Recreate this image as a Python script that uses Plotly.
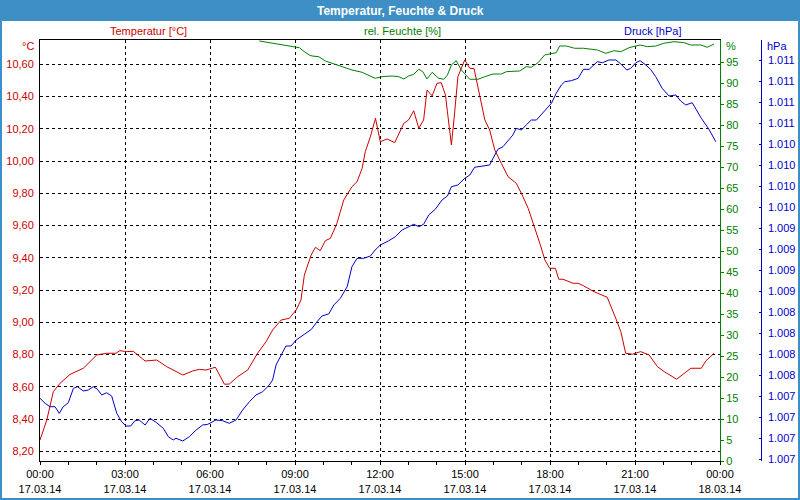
import pandas as pd
import plotly.graph_objects as go

# ---------------- data ----------------
temp_hours = [0.00, 0.24, 0.47, 0.71, 1.06, 1.53, 2.00, 2.35, 2.68, 2.82, 3.06, 3.29, 3.71, 4.12, 4.47, 4.76,
              5.04, 5.39, 5.62, 5.86, 6.19, 6.51, 6.68, 6.98, 7.33, 7.68, 7.98, 8.21, 8.51, 8.80, 9.04, 9.21, 9.33, 9.57,
              9.72, 9.89, 10.07, 10.25, 10.48, 10.72, 11.01, 11.19, 11.37, 11.48, 11.66, 11.84, 12.01, 12.25, 12.52,
              12.84, 13.01, 13.19, 13.37, 13.54, 13.66, 13.84, 14.01, 14.16, 14.31, 14.38,
              14.52, 14.61, 14.75, 14.99, 15.17, 15.32, 15.52, 15.70, 15.87, 16.05, 16.28, 16.52, 16.81, 16.99, 17.23,
              17.46, 17.64, 17.82, 17.99, 18.19, 18.31, 18.46, 18.81, 18.99, 19.18,
              19.55, 20.02, 20.32, 20.50, 20.67, 20.91, 21.20, 21.50, 21.79, 22.03, 22.47, 22.73, 22.97, 23.34, 23.50, 23.79]
temp_values = [8.270, 8.394, 8.570, 8.622, 8.677, 8.715, 8.797, 8.808, 8.808, 8.824, 8.818, 8.820, 8.760, 8.766, 8.725, 8.698,
               8.673, 8.698, 8.708, 8.704, 8.721, 8.616, 8.617, 8.663, 8.704, 8.808, 8.880, 8.952, 9.014, 9.025, 9.076, 9.138, 9.293, 9.417,
               9.465, 9.444, 9.506, 9.521, 9.614, 9.758, 9.841, 9.872, 9.955, 10.058, 10.151, 10.265, 10.120, 10.137, 10.114,
               10.234, 10.255, 10.312, 10.203, 10.255, 10.440, 10.404, 10.482, 10.486, 10.410, 10.306,
               10.100, 10.255, 10.523, 10.627, 10.575, 10.573, 10.410, 10.255, 10.193, 10.069, 9.986, 9.903, 9.862, 9.800, 9.707,
               9.593, 9.490, 9.386, 9.335, 9.335, 9.267, 9.267, 9.242, 9.242, 9.227,
               9.190, 9.155, 9.025, 8.942, 8.808, 8.802, 8.818, 8.797, 8.725, 8.694, 8.647, 8.684, 8.715, 8.715, 8.760, 8.808]

hum_hours = [7.74, 8.21, 8.57, 8.92, 9.15, 9.33, 9.50, 9.60, 9.84, 10.07,
             10.31, 10.66, 11.01, 11.37, 11.60, 11.83, 12.07, 12.42, 12.66, 12.84,
             13.01, 13.19, 13.37, 13.51, 13.66, 13.84, 14.07, 14.25, 14.38, 14.52,
             14.69, 14.87, 15.17, 15.46, 15.70, 15.99, 16.28, 16.46, 16.93, 17.16,
             17.34, 17.58, 17.81, 18.05, 18.22, 18.34, 18.58, 18.87, 19.18, 19.67,
             19.97, 20.26, 20.50, 20.79, 21.18, 21.44, 21.73, 22.02, 22.38, 22.73,
             22.97, 23.32, 23.55, 23.79]
hum_values = [100.1, 99.55, 99.14, 98.74, 98.5, 97.55, 96.76, 96.52, 96.35, 95.33,
              94.78, 93.97, 93.18, 92.63, 91.99, 91.2, 91.59, 91.75, 91.59, 91.04,
              91.75, 92.16, 93.35, 92.78, 91.04, 92.63, 91.2, 90.97, 91.99, 94.38,
              95.4, 93.18, 90.97, 90.97, 91.59, 92.23, 92.23, 92.78, 92.95, 93.97,
              93.83, 94.92, 96.76, 97.16, 97.31, 98.9, 98.9, 98.36, 98.36, 97.95,
              97.16, 97.78, 97.55, 98.5, 99.14, 98.74, 98.9, 99.55, 99.93, 99.69,
              99.14, 99.14, 98.6, 99.38]

press_hours = [0.00, 0.18, 0.35, 0.53, 0.68, 0.82, 1.00, 1.18, 1.32, 1.53, 1.70, 1.88, 2.02, 2.18, 2.35, 2.53, 2.71, 2.88,
               3.04, 3.20, 3.35, 3.50, 3.71, 3.88, 4.12, 4.35, 4.53, 4.70,
               4.80, 5.04, 5.27, 5.51, 5.74, 5.92, 6.21, 6.45, 6.68, 6.92, 7.15, 7.39, 7.62, 7.86, 8.09, 8.21, 8.33, 8.51,
               8.68, 8.86, 9.04, 9.33, 9.58,
               9.78, 9.95, 10.19, 10.37, 10.60, 10.84, 11.01, 11.19, 11.42, 11.66, 11.83, 12.01, 12.31, 12.54, 12.78, 13.01,
               13.19, 13.37, 13.54, 13.72, 13.95, 14.19, 14.38,
               14.52, 14.75, 14.99, 15.17, 15.34, 15.64, 15.87, 15.99, 16.16, 16.34, 16.52, 16.69, 16.81, 16.99, 17.16,
               17.34, 17.52, 17.69, 17.93, 18.05, 18.22, 18.40, 18.52, 18.75, 18.99, 19.18,
               19.38, 19.67, 19.85, 20.08, 20.32, 20.50, 20.71, 20.85, 21.03, 21.18, 21.38, 21.55, 21.73, 21.96, 22.20,
               22.44, 22.61, 22.79, 23.02, 23.20, 23.34, 23.61, 23.85]
press_values = [1007.226, 1007.166, 1007.126, 1007.126, 1007.047, 1007.126, 1007.173, 1007.345, 1007.364, 1007.313,
                1007.324, 1007.364, 1007.336, 1007.265, 1007.292, 1007.253, 1007.047, 1006.947, 1006.896, 1006.896,
                1006.959, 1006.968, 1006.908, 1006.988, 1006.935, 1006.869, 1006.769, 1006.730,
                1006.750, 1006.718, 1006.769, 1006.849, 1006.908, 1006.916, 1006.968, 1006.959, 1006.928, 1006.968,
                1007.086, 1007.185, 1007.265, 1007.304, 1007.384, 1007.443, 1007.622, 1007.741, 1007.848, 1007.848,
                1007.919, 1007.987, 1008.047,
                1008.137, 1008.205, 1008.229, 1008.336, 1008.415, 1008.553, 1008.791, 1008.891, 1008.891, 1008.918,
                1008.990, 1009.049, 1009.100, 1009.148, 1009.228, 1009.267, 1009.296, 1009.267, 1009.296, 1009.406,
                1009.474, 1009.585, 1009.632,
                1009.743, 1009.763, 1009.843, 1009.882, 1009.974, 1009.989, 1010.001, 1010.081, 1010.188, 1010.219,
                1010.290, 1010.358, 1010.438, 1010.417, 1010.477, 1010.536, 1010.536, 1010.596, 1010.687, 1010.735,
                1010.854, 1010.953, 1010.992, 1011.004, 1011.032, 1011.139,
                1011.139, 1011.230, 1011.218, 1011.250, 1011.250, 1011.203, 1011.131, 1011.151, 1011.218, 1011.242,
                1011.191, 1011.139, 1011.052, 1010.913, 1010.822, 1010.834, 1010.763, 1010.715, 1010.742, 1010.635,
                1010.557, 1010.426, 1010.278]

x_tick_hours = [0, 3, 6, 9, 12, 15, 18, 21, 24]
x_tick_labels = ["00:00<br>17.03.14", "03:00<br>17.03.14", "06:00<br>17.03.14", "09:00<br>17.03.14",
                 "12:00<br>17.03.14", "15:00<br>17.03.14", "18:00<br>17.03.14", "21:00<br>17.03.14",
                 "00:00<br>18.03.14"]
temp_ticks = [8.2, 8.4, 8.6, 8.8, 9.0, 9.2, 9.4, 9.6, 9.8, 10.0, 10.2, 10.4, 10.6]
temp_tick_labels = ["8,20", "8,40", "8,60", "8,80", "9,00", "9,20", "9,40", "9,60", "9,80",
                    "10,00", "10,20", "10,40", "10,60"]
hum_ticks = [0, 5, 10, 15, 20, 25, 30, 35, 40, 45, 50, 55, 60, 65, 70, 75, 80, 85, 90, 95]
press_ticks = [1006.5, 1006.75, 1007.0, 1007.25, 1007.5, 1007.75, 1008.0, 1008.25, 1008.5, 1008.75,
               1009.0, 1009.25, 1009.5, 1009.75, 1010.0, 1010.25, 1010.5, 1010.75, 1011.0, 1011.25]
press_tick_labels = ["1.007"] * 4 + ["1.008"] * 4 + ["1.009"] * 4 + ["1.010"] * 4 + ["1.011"] * 4

assert len(temp_hours) == len(temp_values)
assert len(hum_hours) == len(hum_values)
assert len(press_hours) == len(press_values)

# ---------------- figure ----------------
RED, GREEN, BLUE = "#cc0000", "#008000", "#0000cc"
FRAME = "#3d8fc6"
FONT = "Liberation Sans"
base = pd.Timestamp("2014-03-17 00:00")


def to_time(hours):
    return [base + pd.Timedelta(hours=h) for h in hours]


W, H = 800, 500
ML, MR, MT, MB = 40, 35, 40, 39
PW, PH = W - ML - MR, H - MT - MB


def px(xp):
    return (xp - ML) / PW


def py(yp):
    return (H - MB - yp) / PH


fig = go.Figure()
fig.add_trace(go.Scatter(x=to_time(temp_hours), y=temp_values, mode="lines",
                         line=dict(color=RED, width=1), yaxis="y"))
fig.add_trace(go.Scatter(x=to_time(hum_hours), y=hum_values, mode="lines",
                         line=dict(color=GREEN, width=1), yaxis="y2"))
fig.add_trace(go.Scatter(x=to_time(press_hours), y=press_values, mode="lines",
                         line=dict(color=BLUE, width=1), yaxis="y3"))

dash = "3px,3px"
fig.update_layout(
    width=W, height=H,
    margin=dict(l=ML, r=MR, t=MT, b=MB, pad=0, autoexpand=False),
    paper_bgcolor="white", plot_bgcolor="white",
    showlegend=False,
    font=dict(family=FONT, size=11, color="black"),
    xaxis=dict(
        domain=[0, 680 / PW], automargin=False,
        type="date",
        range=[base, base + pd.Timedelta(hours=24)],
        tickvals=to_time(x_tick_hours), ticktext=x_tick_labels,
        ticks="outside", ticklen=3, tickcolor="black", tickwidth=1,
        minor=dict(dtick=3600000, ticks="outside", ticklen=3, tickcolor="black", showgrid=False),
        showline=True, linecolor="black", linewidth=1, mirror=True,
        showgrid=True, gridcolor="black", gridwidth=1, griddash=dash,
        zeroline=False, tickfont=dict(color="black", size=11),
    ),
    yaxis=dict(
        range=[8.1398, 10.7507], automargin=False,
        tickvals=temp_ticks, ticktext=temp_tick_labels,
        ticks="", ticklabelstandoff=3,
        showline=True, linecolor="black", linewidth=1, mirror=False,
        showgrid=True, gridcolor="black", gridwidth=1, griddash=dash,
        zeroline=False, tickfont=dict(color=RED, size=11),
    ),
    yaxis2=dict(
        overlaying="y", side="right", anchor="x", automargin=False,
        range=[0, 100.33],
        tickvals=hum_ticks,
        ticks="outside", ticklen=3, tickcolor=GREEN, tickwidth=1,
        showline=True, linecolor=GREEN, linewidth=1,
        showgrid=False, zeroline=False, tickfont=dict(color=GREEN, size=11),
    ),
    yaxis3=dict(
        overlaying="y", side="right", anchor="free", position=(760.7 - ML) / PW, automargin=False,
        range=[1006.48, 1011.488],
        tickvals=press_ticks, ticktext=press_tick_labels,
        ticks="inside", ticklen=2, tickcolor=BLUE, tickwidth=1, ticklabelstandoff=4,
        showline=True, linecolor=BLUE, linewidth=1,
        showgrid=False, zeroline=False, tickfont=dict(color=BLUE, size=11),
    ),
)

shapes = [
    # title bar
    dict(type="rect", xref="paper", yref="paper", x0=px(0), x1=px(800), y0=py(21), y1=py(0),
         fillcolor=FRAME, line=dict(width=0), layer="below"),
    # window border
    dict(type="rect", xref="paper", yref="paper", x0=px(0), x1=px(2), y0=py(500), y1=py(21),
         fillcolor=FRAME, line=dict(width=0), layer="below"),
    dict(type="rect", xref="paper", yref="paper", x0=px(798), x1=px(800), y0=py(500), y1=py(21),
         fillcolor=FRAME, line=dict(width=0), layer="below"),
    dict(type="rect", xref="paper", yref="paper", x0=px(0), x1=px(800), y0=py(500), y1=py(498),
         fillcolor=FRAME, line=dict(width=0), layer="below"),
]
fig.update_layout(shapes=shapes)

annotations = [
    dict(text="<b>Temperatur, Feuchte &amp; Druck</b>", x=px(400), y=py(10.5),
         font=dict(color="white", size=12, family=FONT)),
    dict(text="Temperatur [°C]", x=px(148), y=py(31), font=dict(color=RED, size=11, family=FONT)),
    dict(text="rel. Feuchte [%]", x=px(402), y=py(31), font=dict(color=GREEN, size=11, family=FONT)),
    dict(text="Druck [hPa]", x=px(652), y=py(31), font=dict(color=BLUE, size=11, family=FONT)),
    dict(text="°C", x=px(36), y=py(45.5), xanchor="right", font=dict(color=RED, size=11, family=FONT)),
    dict(text="%", x=px(724), y=py(45.5), xanchor="left", font=dict(color=GREEN, size=11, family=FONT)),
    dict(text="hPa", x=px(765), y=py(45.5), xanchor="left", font=dict(color=BLUE, size=11, family=FONT)),
]
for a in annotations:
    a.update(xref="paper", yref="paper", showarrow=False)
    a.setdefault("xanchor", "center")
    a["yanchor"] = "middle"
fig.update_layout(annotations=annotations)

fig.write_html(
    "out.html",
    config={"displayModeBar": False, "staticPlot": True},
    post_script="document.body.style.margin='0';document.body.style.overflow='hidden';",
)
